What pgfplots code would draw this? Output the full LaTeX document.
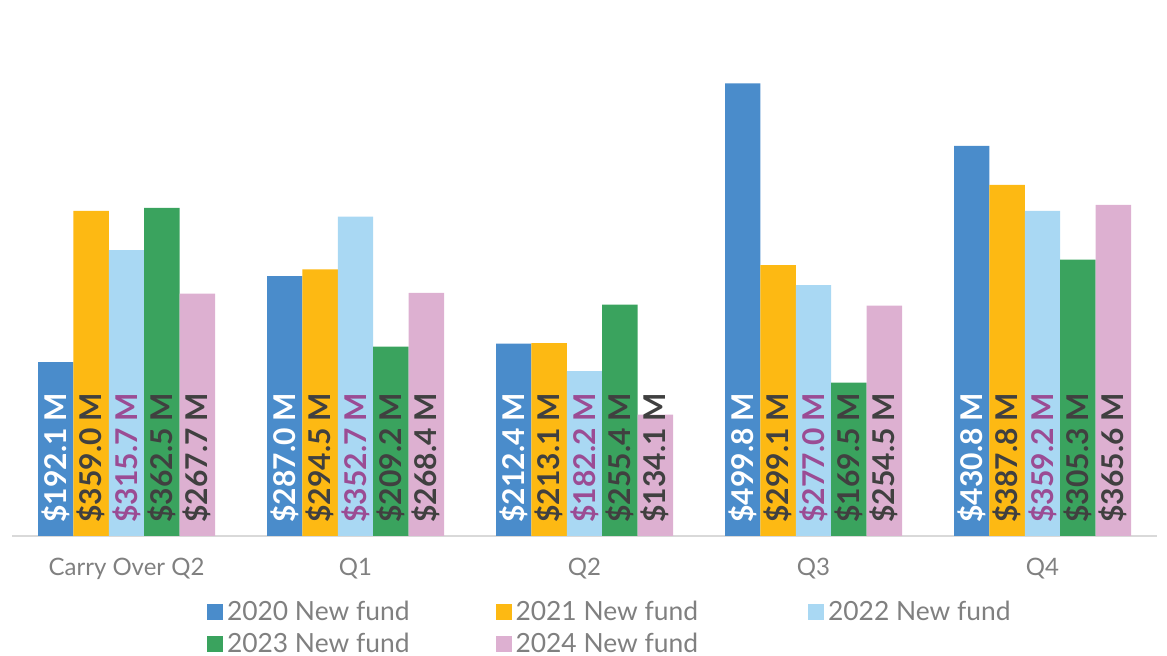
\documentclass[border=0pt]{standalone}
\usepackage{fontspec}
\setmainfont{Lato}
\usepackage{pgfplots}
\pgfplotsset{compat=1.18}
\definecolor{c20}{HTML}{4A8CCB}
\definecolor{c21}{HTML}{FDB913}
\definecolor{c22}{HTML}{A9D8F3}
\definecolor{c23}{HTML}{3AA35E}
\definecolor{c24}{HTML}{DDB0D1}
\definecolor{lblDark}{HTML}{404040}
\definecolor{lblPurple}{HTML}{9B4C94}
\definecolor{txtGray}{HTML}{808080}
\begin{document}
\begin{tikzpicture}
\useasboundingbox (-6pt,-60pt) rectangle (577.5pt,268pt);
\begin{axis}[
  scale only axis, width=572.5pt, height=249pt,
  xmin=-0.5, xmax=4.5, ymin=0, ymax=550,
  axis y line=none, axis x line*=bottom,
  x axis line style={-, draw=black!15, line width=1pt},
  xtick={0,1,2,3,4}, xticklabels={Carry Over Q2,Q1,Q2,Q3,Q4},
  major tick length=0pt,
  xticklabel style={font=\fontsize{12}{14}\selectfont, text=txtGray, yshift=-7.5pt},
  ybar=0pt, bar width=17.7pt,
  visualization depends on={y \as \rawy},
  nodes near coords={\$\pgfmathprintnumber[fixed,fixed zerofill,precision=1,assume math mode=true]{\pgfplotspointmeta}~M},
  every node near coord/.append style={shift={(axis direction cs:0,-\rawy)}, rotate=90, anchor=west, inner xsep=6.5pt, inner ysep=0pt, font=\bfseries\fontsize{15}{15}\selectfont},
  every axis plot post/.append style={legend image code/.code={\fill[##1] (0pt,-4pt) rectangle (8pt,4pt);}},
  legend columns=3,
  legend style={draw=none, at={(0.523,-0.121)}, anchor=north, font=\fontsize{13.2}{15}\selectfont, text=txtGray,
    /tikz/column 2/.style={column sep=41pt}, /tikz/column 4/.style={column sep=53pt}, /tikz/row sep=1pt, inner sep=0pt},
]
\addplot[fill=c20, draw=none, every node near coord/.append style={text=white}] coordinates {(0,192.1) (1,287.0) (2,212.4) (3,499.8) (4,430.8)};
\addplot[fill=c21, draw=none, every node near coord/.append style={text=lblDark}] coordinates {(0,359.0) (1,294.5) (2,213.1) (3,299.1) (4,387.8)};
\addplot[fill=c22, draw=none, every node near coord/.append style={text=lblPurple}] coordinates {(0,315.7) (1,352.7) (2,182.2) (3,277.0) (4,359.2)};
\addplot[fill=c23, draw=none, every node near coord/.append style={text=lblDark}] coordinates {(0,362.5) (1,209.2) (2,255.4) (3,169.5) (4,305.3)};
\addplot[fill=c24, draw=none, every node near coord/.append style={text=lblDark}] coordinates {(0,267.7) (1,268.4) (2,134.1) (3,254.5) (4,365.6)};
\legend{2020 New fund,2021 New fund,2022 New fund,2023 New fund,2024 New fund}
\end{axis}
\end{tikzpicture}
\end{document}
